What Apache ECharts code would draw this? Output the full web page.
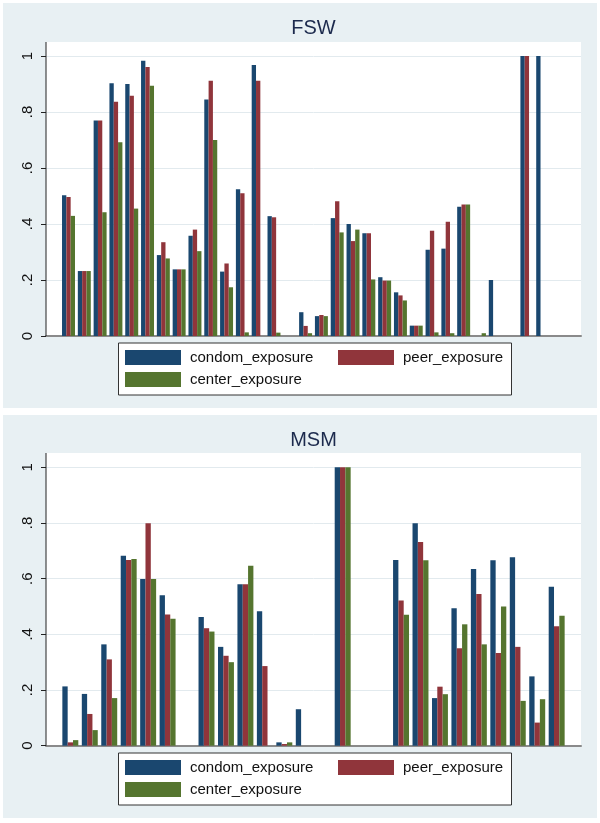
<!DOCTYPE html>
<html><head><meta charset="utf-8">
<script src="https://cdn.jsdelivr.net/npm/echarts@6.0.0/dist/echarts.min.js"></script>
<style>html,body{margin:0;padding:0;background:#fff}#c{width:600px;height:823px}</style>
</head><body><div id="c"></div>
<script>
// ---------- data ----------
const seriesNames = ['condom_exposure', 'peer_exposure', 'center_exposure'];
const yTicks = [0, 0.2, 0.4, 0.6, 0.8, 1];
const panelTitles = ['FSW', 'MSM'];

const fswCategories = ['1','2','3','4','5','6','7','8','9','10','11','12','13','14','15','16','17','18','19','20','21','22','23','24','25','26','27','28','29','30','31','32'];
const fswCondom = [0.503,0.232,0.770,0.903,0.900,0.983,0.289,0.238,0.358,0.845,0.230,0.524,0.968,0.428,null,0.085,0.071,0.421,0.400,0.367,0.210,0.156,0.037,0.308,0.312,0.462,null,0.200,null,1.000,1.000,null];
const fswPeer   = [0.496,0.232,0.770,0.837,0.858,0.961,0.335,0.238,0.380,0.912,0.259,0.510,0.912,0.424,null,0.036,0.075,0.481,0.339,0.367,0.198,0.145,0.037,0.376,0.408,0.470,null,null,null,1.000,null,null];
const fswCenter = [0.429,0.232,0.442,0.692,0.455,0.894,0.277,0.238,0.303,0.700,0.174,0.013,null,0.012,null,0.010,0.071,0.370,0.380,0.202,0.198,0.127,0.037,0.013,0.010,0.470,0.010,null,null,null,null,null];

const msmCategories = ['1','2','3','4','5','6','7','8','9','10','11','12','13','14','15','16','17','18','19','20','21','22','23','24','25','26'];
const msmCondom = [0.213,0.186,0.364,0.682,0.599,0.540,null,0.462,0.355,0.580,0.483,0.012,0.131,null,1.000,null,null,0.667,0.799,0.171,0.494,0.635,0.666,0.677,0.249,0.571];
const msmPeer   = [0.012,0.114,0.310,0.667,0.799,0.471,null,0.422,0.323,0.580,0.286,0.006,null,null,1.000,null,null,0.522,0.732,0.212,0.350,0.545,0.333,0.355,0.083,0.429];
const msmCenter = [0.020,0.056,0.171,0.671,0.599,0.456,null,0.410,0.300,0.646,null,0.012,null,null,1.000,null,null,0.470,0.666,0.185,0.436,0.364,0.500,0.161,0.167,0.467];

// ---------- styling / layout ----------
const W = 600, H = 823;
const colors = ['#1a476f', '#90353b', '#55752f'];
const panelBg = '#e8f0f3';
const font = 'Liberation Sans, Arial, Helvetica, sans-serif';
const panels = [
  { cats: fswCategories, vals: [fswCondom, fswPeer, fswCenter],
    panelTop: 3, panelBottom: 408, plotTop: 42, oneY: 56, zeroY: 336,
    titleY: 28, legTop: 343, legBottom: 395 },
  { cats: msmCategories, vals: [msmCondom, msmPeer, msmCenter],
    panelTop: 415, panelBottom: 818, plotTop: 453, oneY: 467.3, zeroY: 745.7,
    titleY: 440, legTop: 753, legBottom: 805 }
];
const plotLeft = 46, plotRight = 581, barLeft = 60.6, barRight = 566.4;
const legLeft = 118.5, legRight = 511.5;

const grid = [], xAxis = [], yAxis = [], series = [], title = [], legend = [], graphic = [];
panels.forEach((p, i) => {
  const h = p.zeroY - p.oneY;
  graphic.push({ type: 'rect', z: -20, silent: true,
    shape: { x: 3, y: p.panelTop, width: W - 6, height: p.panelBottom - p.panelTop },
    style: { fill: panelBg } });
  graphic.push({ type: 'rect', z: -10, silent: true,
    shape: { x: plotLeft, y: p.plotTop, width: plotRight - plotLeft, height: p.zeroY - p.plotTop },
    style: { fill: '#ffffff' } });
  graphic.push({ type: 'line', z: 50, silent: true,
    shape: { x1: plotLeft, y1: p.plotTop, x2: plotLeft, y2: p.zeroY },
    style: { stroke: '#222', lineWidth: 1 } });
  graphic.push({ type: 'rect', z: -5, silent: true,
    shape: { x: legLeft, y: p.legTop, width: legRight - legLeft, height: p.legBottom - p.legTop },
    style: { fill: '#ffffff', stroke: '#333', lineWidth: 1 } });

  grid.push({ left: plotLeft, right: W - plotRight, top: p.oneY, height: h });
  grid.push({ left: barLeft, right: W - barRight, top: p.oneY, height: h });
  const gFrame = 2 * i, gBar = 2 * i + 1;

  xAxis.push({ type: 'value', gridIndex: gFrame, min: 0, max: 1,
    axisLine: { show: true, lineStyle: { color: '#8a8a8a', width: 2 } },
    axisTick: { show: false }, axisLabel: { show: false }, splitLine: { show: false } });
  xAxis.push({ type: 'category', gridIndex: gBar, data: p.cats, show: false });

  yAxis.push({ type: 'value', gridIndex: gFrame, min: yTicks[0], max: yTicks[yTicks.length - 1], interval: 0.2,
    axisLine: { show: false },
    axisTick: { show: true, length: 5, lineStyle: { color: '#222' } },
    axisLabel: { rotate: 90, margin: 11, fontSize: 15, fontFamily: font, color: '#111',
      formatter: v => v === 0 ? '0' : (v >= 1 ? '1' : v.toFixed(1).replace(/^0/, '')) },
    splitLine: { show: true, lineStyle: { color: '#e2eaee', width: 1 } } });
  yAxis.push({ type: 'value', gridIndex: gBar, min: 0, max: 1, show: false, splitLine: { show: false } });

  seriesNames.forEach((name, k) => {
    series.push({ type: 'bar', name, xAxisIndex: gBar, yAxisIndex: gBar,
      data: p.vals[k], barGap: '0%', barCategoryGap: '18%',
      itemStyle: { color: colors[k] }, silent: true, animation: false });
  });

  title.push({ text: panelTitles[i], left: (plotLeft + plotRight) / 2, top: p.titleY - 10,
    textAlign: 'center', padding: 0,
    textStyle: { fontSize: 20, fontWeight: 'normal', fontFamily: font, color: '#1c2a4d' } });

  const rowY = [p.legTop + 7, p.legTop + 29];
  const legPos = [[125, rowY[0]], [338, rowY[0]], [125, rowY[1]]];
  seriesNames.forEach((name, k) => {
    legend.push({ data: [name], left: legPos[k][0], top: legPos[k][1], padding: 0,
      itemWidth: 56, itemHeight: 15, icon: 'rect', selectedMode: false,
      textStyle: { fontSize: 15, fontFamily: font, color: '#111', padding: [0, 0, 0, 4] } });
  });
});

const chart = echarts.init(document.getElementById('c'), null, { renderer: 'canvas' });
chart.setOption({ animation: false, backgroundColor: '#ffffff',
  title, legend, grid, xAxis, yAxis, series, graphic });
</script>
</body></html>
